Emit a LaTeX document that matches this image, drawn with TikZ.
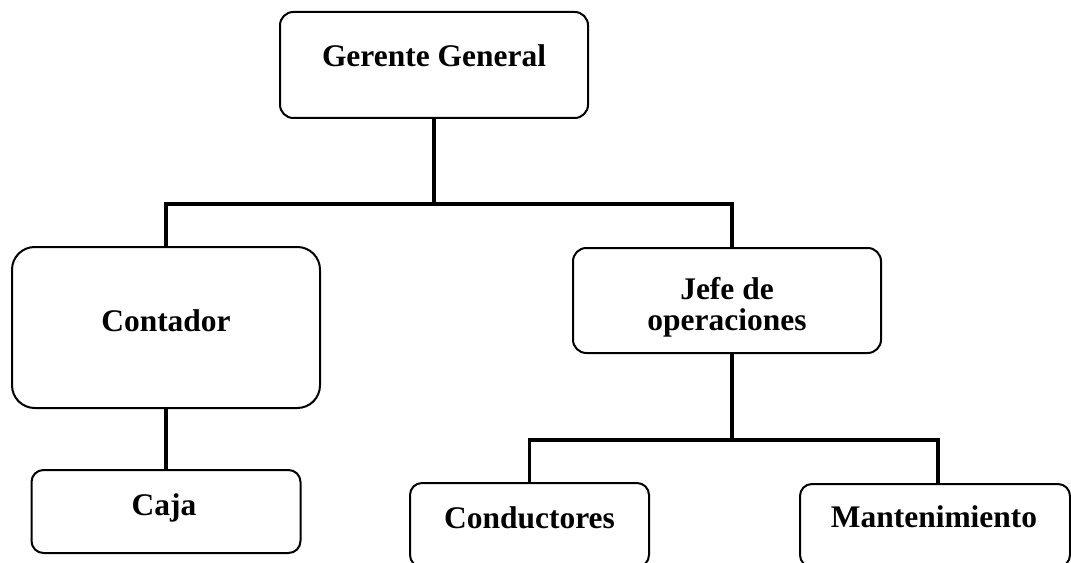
\documentclass[tikz,border=0pt]{standalone}
\usepackage{fontspec}
\setmainfont{Liberation Serif}

\tikzset{
  cargo/.style={draw, rounded corners=10pt, line width=1.5pt, inner sep=0pt},
  nombre/.style={font=\bfseries\fontsize{23.6}{23.3}\selectfont, inner sep=0pt, align=center},
  rama/.style={line width=2.7pt},
}

\begin{document}
\begin{tikzpicture}[x=0.75pt,y=-0.75pt]
\useasboundingbox (0,0) rectangle (1071,563);
% cajas
\node[cargo, minimum width=231pt, minimum height=79.5pt] (ger) at (434,65) {};
\node[cargo, rounded corners=17pt, minimum width=231pt, minimum height=120.75pt] (cont) at (166,327.5) {};
\node[cargo, rounded corners=9pt, minimum width=201.75pt, minimum height=62.25pt] (caja) at (166,511.5) {};
\node[cargo, minimum width=231pt, minimum height=78.75pt] (jefe) at (727,300.5) {};
\node[cargo, rounded corners=9pt, minimum width=179.25pt, minimum height=63pt] (cond) at (529.5,525) {};
\node[cargo, rounded corners=9pt, minimum width=202.5pt, minimum height=62.25pt] (mant) at (935,525.5) {};
% textos
\node[nombre, anchor=base] (tger) at (434,67) {Gerente General};
\node[nombre, anchor=base] (tcont) at (166,331) {Contador};
\node[nombre, anchor=base] (tcaja) at (164,515) {Caja};
\node[nombre] (tjefe) at (727,307) {Jefe de\\operaciones};
\node[nombre, anchor=base] (tcond) at (529.5,528) {Conductores};
\node[nombre, anchor=base] (tmant) at (934,527) {Mantenimiento};
% lineas
\coordinate (b1) at (434,204);
\coordinate (b2) at (732,440);
\draw[rama] (ger.south) -- (b1);
\draw[rama] (cont.north) |- (b1) -| (b2 |- jefe.north);
\draw[rama] (b2 |- jefe.south) -- (b2);
\draw[rama] (cond.north) |- (b2) -| ([xshift=2.25pt]mant.north);
\draw[rama] (cont.south) -- (caja.north);
\end{tikzpicture}
\end{document}
